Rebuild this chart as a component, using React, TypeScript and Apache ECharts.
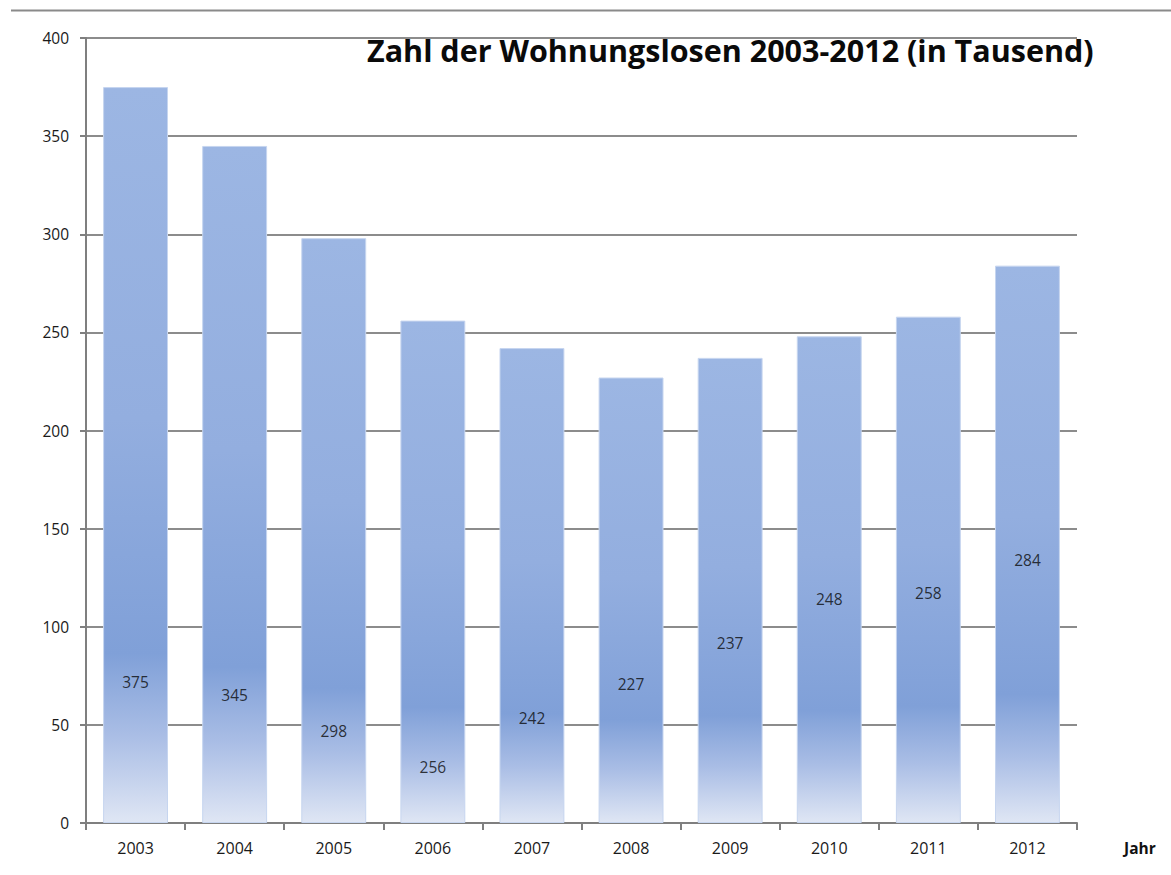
import React, { useEffect, useRef } from "react";
import * as echarts from "echarts";

const years = ["2003", "2004", "2005", "2006", "2007", "2008", "2009", "2010", "2011", "2012"];
const values = [375, 345, 298, 256, 242, 227, 237, 248, 258, 284];
// vertical anchor (in axis units) where each value label sits inside its bar
const labelAnchor = [72, 65, 47, 28.5, 53.5, 71, 91.5, 114, 117, 134];
const titleText = "Zahl der Wohnungslosen 2003-2012 (in Tausend)";
const xName = "Jahr";

export default function App() {
  const ref = useRef<HTMLDivElement>(null);
  useEffect(() => {
    document.body.style.margin = "0";
    const chart = echarts.init(ref.current!, null, { renderer: "svg" });
    const font = "'Open Sans', 'Noto Sans', sans-serif";
    chart.setOption({
      animation: false,
      backgroundColor: "#ffffff",
      textStyle: { fontFamily: font },
      title: {
        text: titleText,
        left: 362,
        top: 29,
        textStyle: { fontFamily: font, fontSize: 30.5, fontWeight: "bold", color: "#0a0a0a" },
      },
      grid: { left: 86, right: 94, top: 38, bottom: 52 },
      xAxis: {
        type: "category",
        data: years,
        axisLine: { lineStyle: { color: "#7f7f7f", width: 2 } },
        axisTick: { show: true, length: 7, lineStyle: { color: "#7f7f7f", width: 2 } },
        axisLabel: { color: "#1a1a1a", fontSize: 16, margin: 17, fontFamily: font },
      },
      yAxis: {
        type: "value",
        min: 0,
        max: 400,
        interval: 50,
        axisLine: { show: true, lineStyle: { color: "#7f7f7f", width: 2 } },
        axisTick: { show: true, length: 6, lineStyle: { color: "#7f7f7f", width: 2 } },
        axisLabel: { color: "#1a1a1a", fontSize: 15.5, margin: 17, fontFamily: font },
        splitLine: { lineStyle: { color: "#8c8c8c", width: 2 } },
      },
      graphic: [
        {
          type: "line",
          shape: { x1: 11, y1: 10.5, x2: 1171, y2: 10.5 },
          style: { stroke: "#8a8a8a", lineWidth: 2 },
        },
        {
          type: "text",
          x: 1124,
          y: 840,
          style: { text: xName, fontSize: 15.5, fontWeight: "bold", fill: "#111", fontFamily: font },
        },
      ],
      series: [
        {
          type: "bar",
          data: values,
          barWidth: "65.5%",
          itemStyle: {
            borderColor: "#c6d5ef",
            borderWidth: 1,
            color: new echarts.graphic.LinearGradient(0, 0, 0, 1, [
              { offset: 0, color: "#9cb6e3" },
              { offset: 0.45, color: "#93aedf" },
              { offset: 0.77, color: "#80a0d8" },
              { offset: 0.88, color: "#a9bde5" },
              { offset: 1, color: "#dfe6f4" },
            ]),
          },
          emphasis: { disabled: true },
        },
        {
          type: "scatter",
          data: labelAnchor.map((a, i) => ({ value: a, label: { formatter: String(values[i]) } })),
          symbolSize: 0,
          label: {
            show: true,
            position: "inside",
            color: "#0a0a0a",
            fontSize: 15.5,
            fontFamily: font,
          },
          z: 5,
        },
      ],
    });
    return () => chart.dispose();
  }, []);
  return <div ref={ref} style={{ width: 1171, height: 875 }} />;
}
